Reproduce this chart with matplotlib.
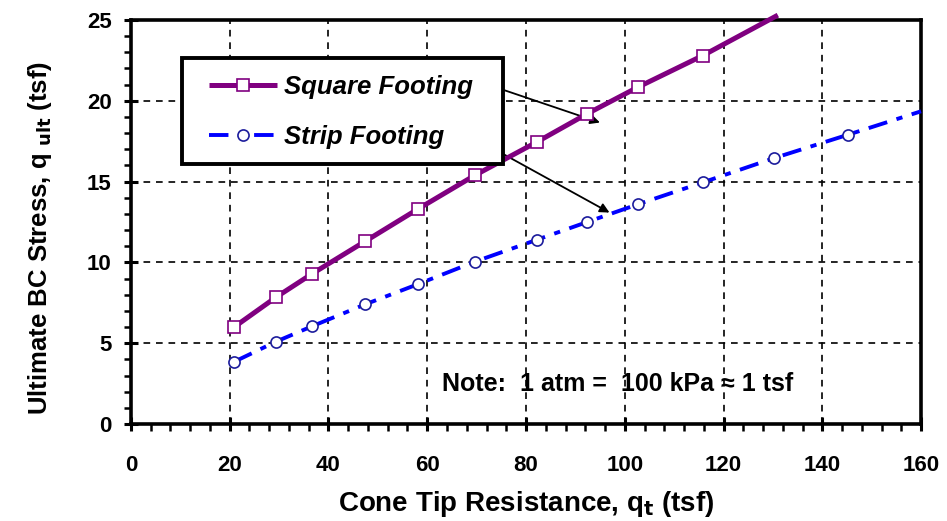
import matplotlib
matplotlib.use('Agg')
import matplotlib.pyplot as plt
from matplotlib.patches import Rectangle
from matplotlib.ticker import MultipleLocator

plt.rcParams['font.family'] = ['Liberation Sans', 'DejaVu Sans']
plt.rcParams['font.weight'] = 'bold'

# Cone tip resistance (tsf) at the plotted points
qt_square = [20.9, 29.4, 36.7, 47.4, 58.1, 69.7, 82.2, 92.4, 102.7, 115.8]
qult_square = [6.0, 7.85, 9.3, 11.3, 13.3, 15.4, 17.45, 19.2, 20.85, 22.8]
# line carries on past the last marker up to the top of the frame
square_end = (131.0, 25.3)

qt_strip = [20.9, 29.4, 36.7, 47.4, 58.1, 69.7, 82.2, 92.4, 102.7, 115.8, 130.2, 145.2]
qult_strip = [3.85, 5.1, 6.05, 7.4, 8.65, 10.05, 11.4, 12.5, 13.6, 14.95, 16.45, 17.9]
strip_end = (160.0, 19.35)

x_ticks = [0, 20, 40, 60, 80, 100, 120, 140, 160]
y_ticks = [0, 5, 10, 15, 20, 25]

fig = plt.figure(figsize=(9.47, 5.21), dpi=100)
ax = fig.add_axes([0.1383, 0.1862, 0.8343, 0.7754])

purple = '#800080'
blue = '#0000ff'

xs = qt_square + [square_end[0]]
ys = qult_square + [square_end[1]]
ax.plot(xs, ys, color=purple, linewidth=3.6, solid_capstyle='butt', clip_on=False,
        marker='s', markersize=9, markerfacecolor='white', markeredgecolor=purple,
        markeredgewidth=1.2, markevery=list(range(len(qt_square))), zorder=4,
        label='Square Footing')

xs = qt_strip + [strip_end[0]]
ys = qult_strip + [strip_end[1]]
ax.plot(xs, ys, color=blue, linewidth=2.8, dashes=(5, 2.5, 1.6, 2.5), clip_on=False,
        marker='o', markersize=8, markerfacecolor='white', markeredgecolor='#1c1c9c',
        markeredgewidth=1.2, markevery=list(range(len(qt_strip))), zorder=4,
        label='Strip Footing')

ax.set_xlim(0, 160)
ax.set_ylim(0, 25)
ax.set_xticks(x_ticks)
ax.set_yticks(y_ticks)
ax.xaxis.set_minor_locator(MultipleLocator(4))
ax.yaxis.set_minor_locator(MultipleLocator(1))
ax.grid(True, which='major', color='black', linestyle=(0, (4, 3.5)), linewidth=1.2)
ax.set_axisbelow(True)

for s in ax.spines.values():
    s.set_linewidth(2.6)
ax.tick_params(which='major', direction='inout', length=10, width=2.2, labelsize=16,
               top=False, right=False)
ax.tick_params(which='minor', direction='out', length=5, width=1.8, top=False, right=False)
ax.tick_params(axis='x', which='major', pad=17)
ax.tick_params(axis='y', which='major', pad=9)

ax.set_xlabel('Cone Tip Resistance, q$_\\mathbf{t}$ (tsf)', fontsize=20, fontweight='bold',
              labelpad=10)
ax.set_ylabel('Ultimate BC Stress, q $_\\mathbf{ult}$ (tsf)', fontsize=18.5, fontweight='bold')
ax.yaxis.set_label_coords(-0.097, 0.46)

# legend frame drawn separately so the padding can differ per side
ax.add_patch(Rectangle((0.0646, 0.6436), 0.4063, 0.2624, transform=ax.transAxes,
                       facecolor='white', edgecolor='black', linewidth=2.8, zorder=5))
leg = ax.legend(loc='upper left', bbox_to_anchor=(0.099, 0.865), frameon=False,
                borderpad=0, borderaxespad=0, labelspacing=1.03,
                handlelength=2.65, handletextpad=0.27,
                prop={'size': 18.5, 'weight': 'bold', 'style': 'italic'})
leg.set_zorder(6)

# arrows pointing from the legend entries to their curves
ax.annotate('', xy=(95.5, 18.6), xytext=(74.7, 20.75),
            arrowprops=dict(arrowstyle='-|>', color='black', lw=1.3, mutation_scale=14),
            zorder=3)
ax.annotate('', xy=(97.4, 13.0), xytext=(68.0, 17.95),
            arrowprops=dict(arrowstyle='-|>', color='black', lw=1.3, mutation_scale=14),
            zorder=3)

ax.text(98.5, 2.45, 'Note:  1 atm =  100 kPa \u2248 1 tsf', fontsize=18, fontweight='bold',
        ha='center', va='center')

fig.savefig('out.png', dpi=100)
